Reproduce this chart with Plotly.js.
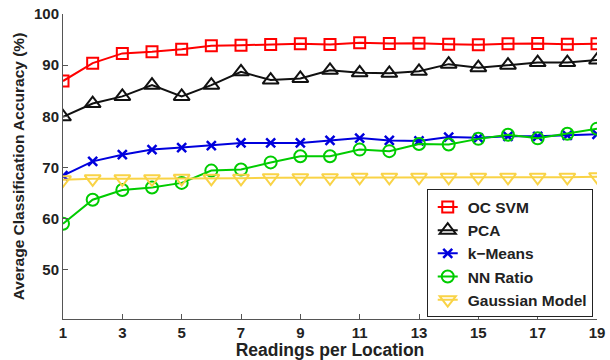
<!DOCTYPE html>
<html><head><meta charset="utf-8">
<script src="https://cdn.plot.ly/plotly-3.0.1.min.js"></script>
<style>html,body{margin:0;padding:0;background:#fff;}#chart{width:610px;height:360px;}</style>
</head><body><div id="chart"></div>
<script>
const readings = [1,2,3,4,5,6,7,8,9,10,11,12,13,14,15,16,17,18,19];
const ocSvm = [86.9,90.4,92.3,92.6,93.1,93.8,93.9,94.05,94.2,94.05,94.4,94.25,94.3,94.1,94.0,94.2,94.25,94.1,94.2];
const pca = [79.9,82.5,83.9,86.1,83.9,86.1,88.7,87.1,87.4,89.0,88.5,88.4,88.8,90.2,89.5,90.0,90.5,90.5,91.0];
const kMeans = [68.4,71.2,72.5,73.5,73.9,74.3,74.8,74.8,74.8,75.3,75.75,75.3,75.2,75.95,75.8,76.1,76.1,76.3,76.5];
const nnRatio = [59.0,63.7,65.6,66.1,67.0,69.4,69.6,71.0,72.2,72.2,73.5,73.2,74.6,74.5,75.6,76.4,75.7,76.6,77.6];
const gaussian = [67.6,67.8,67.8,67.8,67.9,67.9,67.9,68.0,68.0,68.0,68.1,68.1,68.1,68.1,68.1,68.1,68.1,68.1,68.2];
const seriesNames = ['OC SVM','PCA','k\u2212Means','NN Ratio','Gaussian Model'];
const xTicks = [1,3,5,7,9,11,13,15,17,19];
const yTicks = [50,60,70,80,90,100];

const font = {family:'Liberation Sans, Arial, sans-serif', weight:'bold', color:'#222'};
function tr(y, name, color, symbol, size){
  return {x:readings, y:y, name:name, type:'scatter', mode:'lines+markers',
    line:{color:color, width:2},
    marker:{symbol:symbol, size:size, color:color, line:{color:color, width:2}}};
}
const data = [
  tr(ocSvm, seriesNames[0], '#ff0000', 'square-open', 11),
  tr(pca, seriesNames[1], '#111111', 'triangle-up-open', 14),
  tr(kMeans, seriesNames[2], '#0000dd', 'x-thin-open', 9),
  tr(nnRatio, seriesNames[3], '#00cc00', 'circle-open', 12),
  tr(gaussian, seriesNames[4], '#f9d346', 'triangle-down-open', 14)
];
data[2].marker.line.width = 2.5;

const layout = {
  width:610, height:360,
  margin:{l:63, r:13, t:14, b:41},
  paper_bgcolor:'#fff', plot_bgcolor:'#fff',
  showlegend:true,
  font:Object.assign({size:14}, font),
  xaxis:{range:[1,19], tickvals:xTicks, ticks:'inside', ticklen:5, tickcolor:'#555',
    showline:true, linecolor:'#555', linewidth:1, showgrid:false, zeroline:false,
    tickfont:Object.assign({size:15}, font),
    title:{text:'Readings per Location', font:Object.assign({size:17.5}, font), standoff:1}},
  yaxis:{range:[40.4,100], tickvals:yTicks, ticks:'inside', ticklen:5, tickcolor:'#555',
    showline:true, linecolor:'#555', linewidth:1, showgrid:false, zeroline:false,
    tickfont:Object.assign({size:15}, font),
    title:{text:'Average Classification Accuracy (%)', font:Object.assign({size:15.5}, font), standoff:5}},
  legend:{x:0.992, y:0.005, xanchor:'right', yanchor:'bottom', bgcolor:'#fff',
    bordercolor:'#222', borderwidth:1, font:Object.assign({size:15.5}, font),
    tracegroupgap:0, itemwidth:30}
};
Plotly.newPlot('chart', data, layout, {displayModeBar:false, staticPlot:true}).then(function(){
  document.querySelectorAll('.legend .traces').forEach(function(g){
    var p = g.querySelector('.js-line');
    if (p) p.setAttribute('d','M10,0h20');
  });
});
</script></body></html>
